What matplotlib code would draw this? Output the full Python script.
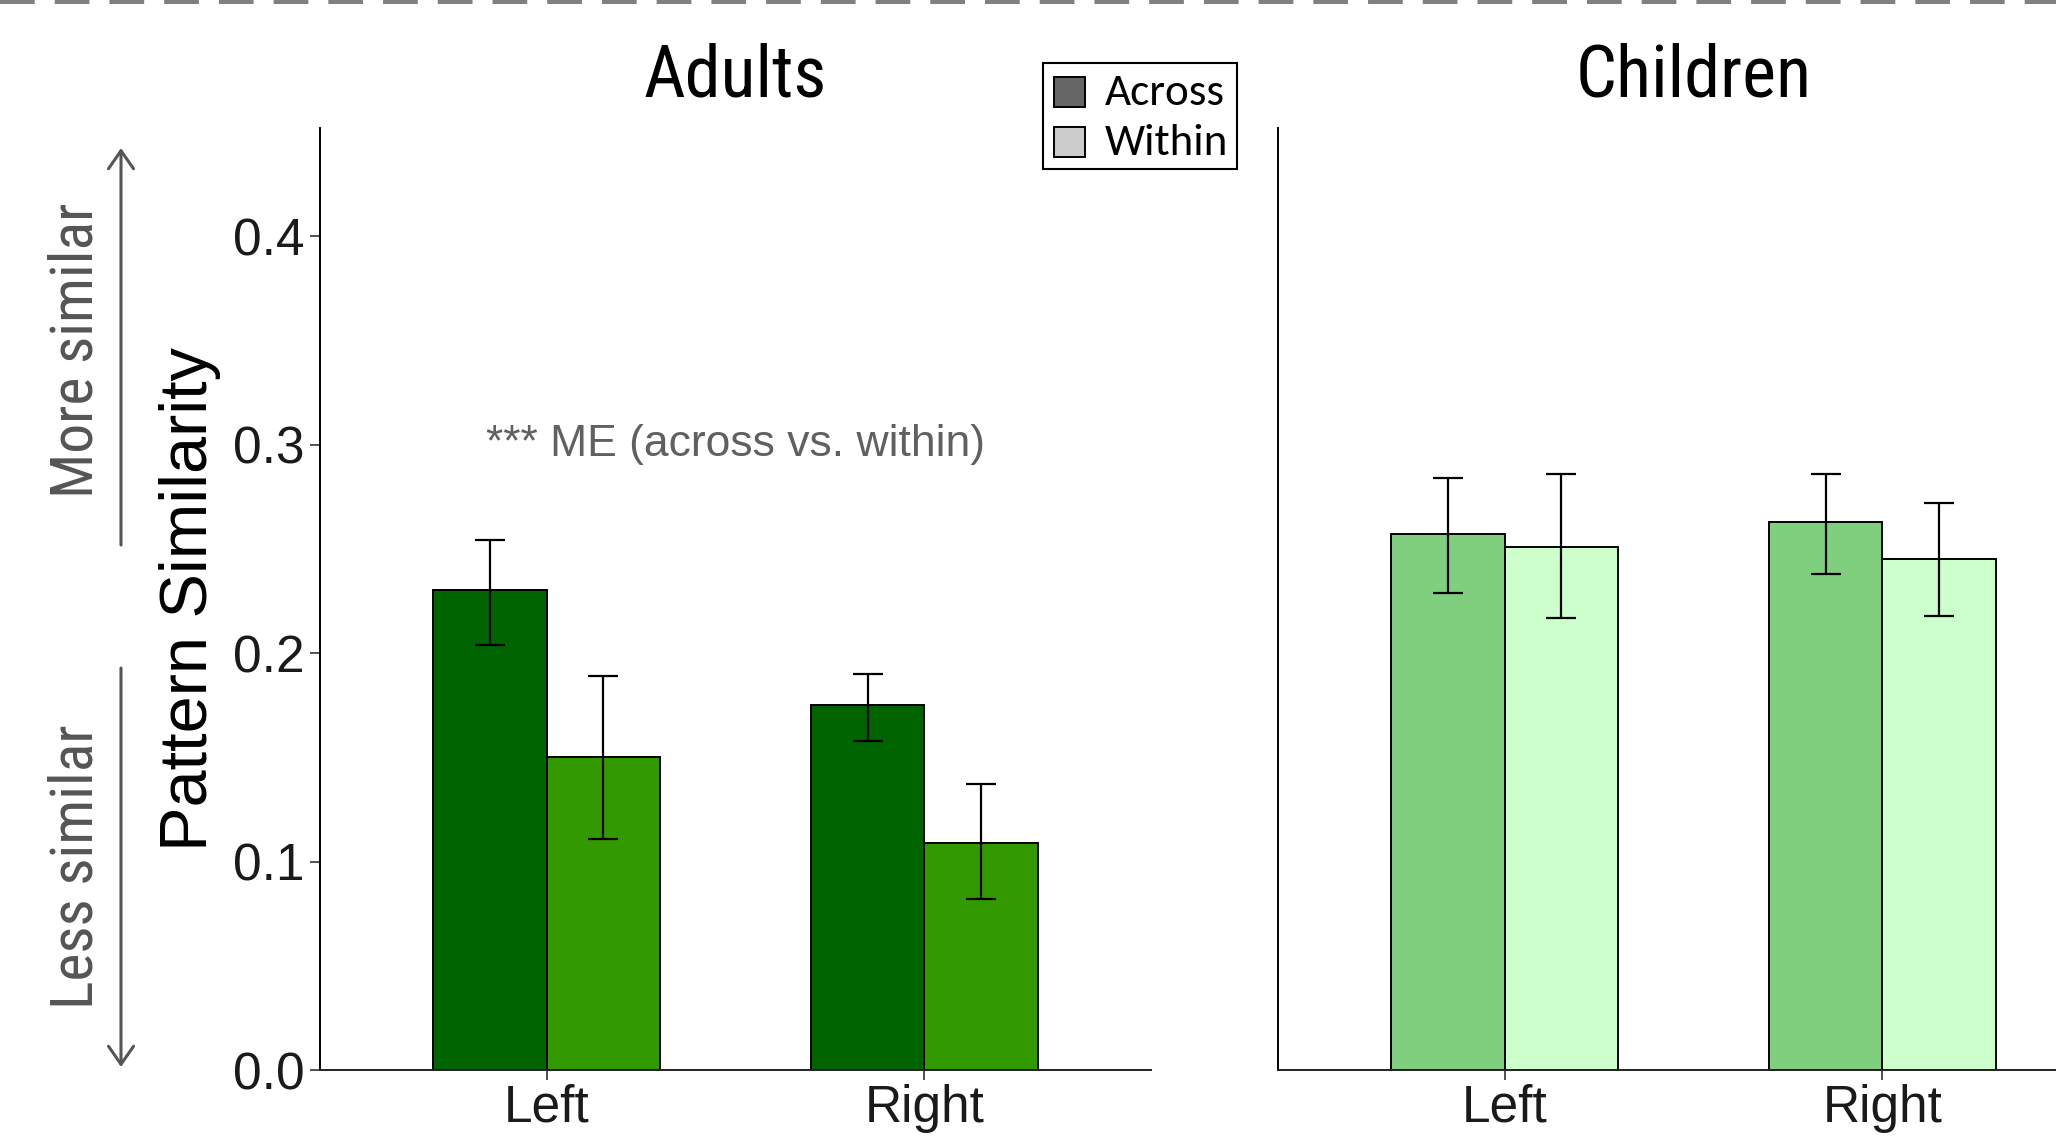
import matplotlib
matplotlib.use("Agg")
import matplotlib.pyplot as plt
import numpy as np
from matplotlib.patches import Rectangle, FancyArrowPatch
from matplotlib.lines import Line2D

# ---------------- data ----------------
hemispheres = ["Left", "Right"]
conditions = ["Across", "Within"]

adults_across = [0.230, 0.175]
adults_across_lo = [0.204, 0.158]
adults_across_hi = [0.254, 0.190]
adults_within = [0.150, 0.109]
adults_within_lo = [0.111, 0.082]
adults_within_hi = [0.189, 0.137]

children_across = [0.257, 0.263]
children_across_lo = [0.229, 0.238]
children_across_hi = [0.284, 0.286]
children_within = [0.251, 0.245]
children_within_lo = [0.217, 0.218]
children_within_hi = [0.286, 0.272]

yticks = [0.0, 0.1, 0.2, 0.3, 0.4]
ytick_labels = ["0.0", "0.1", "0.2", "0.3", "0.4"]

adult_colors = ["#006400", "#339900"]
child_colors = ["#7fcf7f", "#ccffcc"]
legend_colors = ["#666666", "#cccccc"]

# ---------------- figure ----------------
W, H = 2056, 1143
fig = plt.figure(figsize=(W / 100, H / 100), dpi=100)
plt.rcParams["lines.scale_dashes"] = False

SANS = ["Liberation Sans", "DejaVu Sans"]
NARROW = ["Roboto Condensed", "Archivo Narrow", "DejaVu Sans"]
LEG = ["Carlito", "Liberation Sans", "DejaVu Sans"]


def fx(px):
    return px / W


def fy(py):
    return 1 - py / H


ax_bottom = fy(1070)
ax_height = (1070 - 128.5) / H
ax_width = 831 / W
axA = fig.add_axes([fx(320), ax_bottom, ax_width, ax_height])
axC = fig.add_axes([fx(1278), ax_bottom, ax_width, ax_height])

x = np.arange(1, len(hemispheres) + 1)
bw = 0.3


def draw_panel(ax, across, alo, ahi, within, wlo, whi, colors):
    a = np.array(across)
    w = np.array(within)
    ax.bar(x - bw / 2, a, bw, color=colors[0], edgecolor="black", linewidth=1.4, zorder=2)
    ax.bar(x + bw / 2, w, bw, color=colors[1], edgecolor="black", linewidth=1.4, zorder=2)
    ax.errorbar(x - bw / 2, a, yerr=[a - np.array(alo), np.array(ahi) - a], fmt="none",
                ecolor="black", elinewidth=1.6, capsize=10.8, capthick=1.6, zorder=3)
    ax.errorbar(x + bw / 2, w, yerr=[w - np.array(wlo), np.array(whi) - w], fmt="none",
                ecolor="black", elinewidth=1.6, capsize=10.8, capthick=1.6, zorder=3)
    ax.set_xlim(0.4, 2.6)
    ax.set_ylim(0, 0.4516)
    ax.set_xticks(x)
    ax.set_xticklabels(hemispheres, fontsize=37, family=SANS, color="#1a1a1a")
    for s in ["top", "right"]:
        ax.spines[s].set_visible(False)
    ax.spines["left"].set_linewidth(1.4)
    ax.spines["bottom"].set_linewidth(1.4)
    ax.spines["left"].set_color("black")
    ax.spines["bottom"].set_color("#222222")
    ax.tick_params(axis="x", length=7, width=1.2, pad=3, colors="#333333", labelcolor="#1a1a1a")
    ax.set_facecolor("none")


draw_panel(axA, adults_across, adults_across_lo, adults_across_hi,
           adults_within, adults_within_lo, adults_within_hi, adult_colors)
draw_panel(axC, children_across, children_across_lo, children_across_hi,
           children_within, children_within_lo, children_within_hi, child_colors)

axA.set_yticks(yticks)
axA.set_yticklabels(ytick_labels, fontsize=37, family=SANS, color="#1a1a1a")
axA.tick_params(axis="y", length=7, width=1.2, pad=4, colors="#333333", labelcolor="#1a1a1a")
axC.set_yticks([])

axA.text(1.5, 0.3, "*** ME (across vs. within)", ha="center", va="center",
         fontsize=32, family=SANS, color="#606060")

# titles
fig.text(fx(320 + 831 / 2), fy(77), "Adults", ha="center", va="center",
         fontsize=52, family=NARROW, color="black")
fig.text(fx(1278 + 831 / 2), fy(77), "Children", ha="center", va="center",
         fontsize=52, family=NARROW, color="black")

# y label
fig.text(fx(190), fy(599), "Pattern Similarity", rotation=90, ha="center", va="center",
         fontsize=48, family=SANS, color="black")

# side annotations
fig.text(fx(76), fy(350), "More similar", rotation=90, ha="center", va="center",
         fontsize=43, family=NARROW, color="#555555")
fig.text(fx(76), fy(867), "Less similar", rotation=90, ha="center", va="center",
         fontsize=43, family=NARROW, color="#555555")
for (y0, y1) in [(545, 148), (668, 1067)]:
    arr = FancyArrowPatch((fx(121), fy(y0)), (fx(121), fy(y1)), transform=fig.transFigure,
                          arrowstyle="->,head_length=0.65,head_width=0.45", mutation_scale=20,
                          color="#555555", linewidth=2.2, shrinkA=0, shrinkB=0)
    fig.add_artist(arr)

# dashed line on top
fig.add_artist(Line2D([0, 1], [fy(2), fy(2)], transform=fig.transFigure, color="#808080",
                      linewidth=2.9, dashes=(25, 14.4), solid_capstyle="butt",
                      dash_capstyle="butt"))

# legend (manual)
fig.add_artist(Rectangle((fx(1043), fy(169)), fx(1237) - fx(1043), (169 - 63) / H,
                         transform=fig.transFigure, facecolor="white", edgecolor="black",
                         linewidth=1.5))
for i, (lab, col) in enumerate(zip(conditions, legend_colors)):
    top = 77 + i * 50
    fig.add_artist(Rectangle((fx(1054), fy(top + 30)), 31 / W, 30 / H,
                             transform=fig.transFigure, facecolor=col, edgecolor="black",
                             linewidth=1.4))
    fig.text(fx(1105), fy(top + 16), lab, ha="left", va="center", fontsize=32.5,
             family=LEG, color="black")

fig.savefig("out.png", dpi=100)
